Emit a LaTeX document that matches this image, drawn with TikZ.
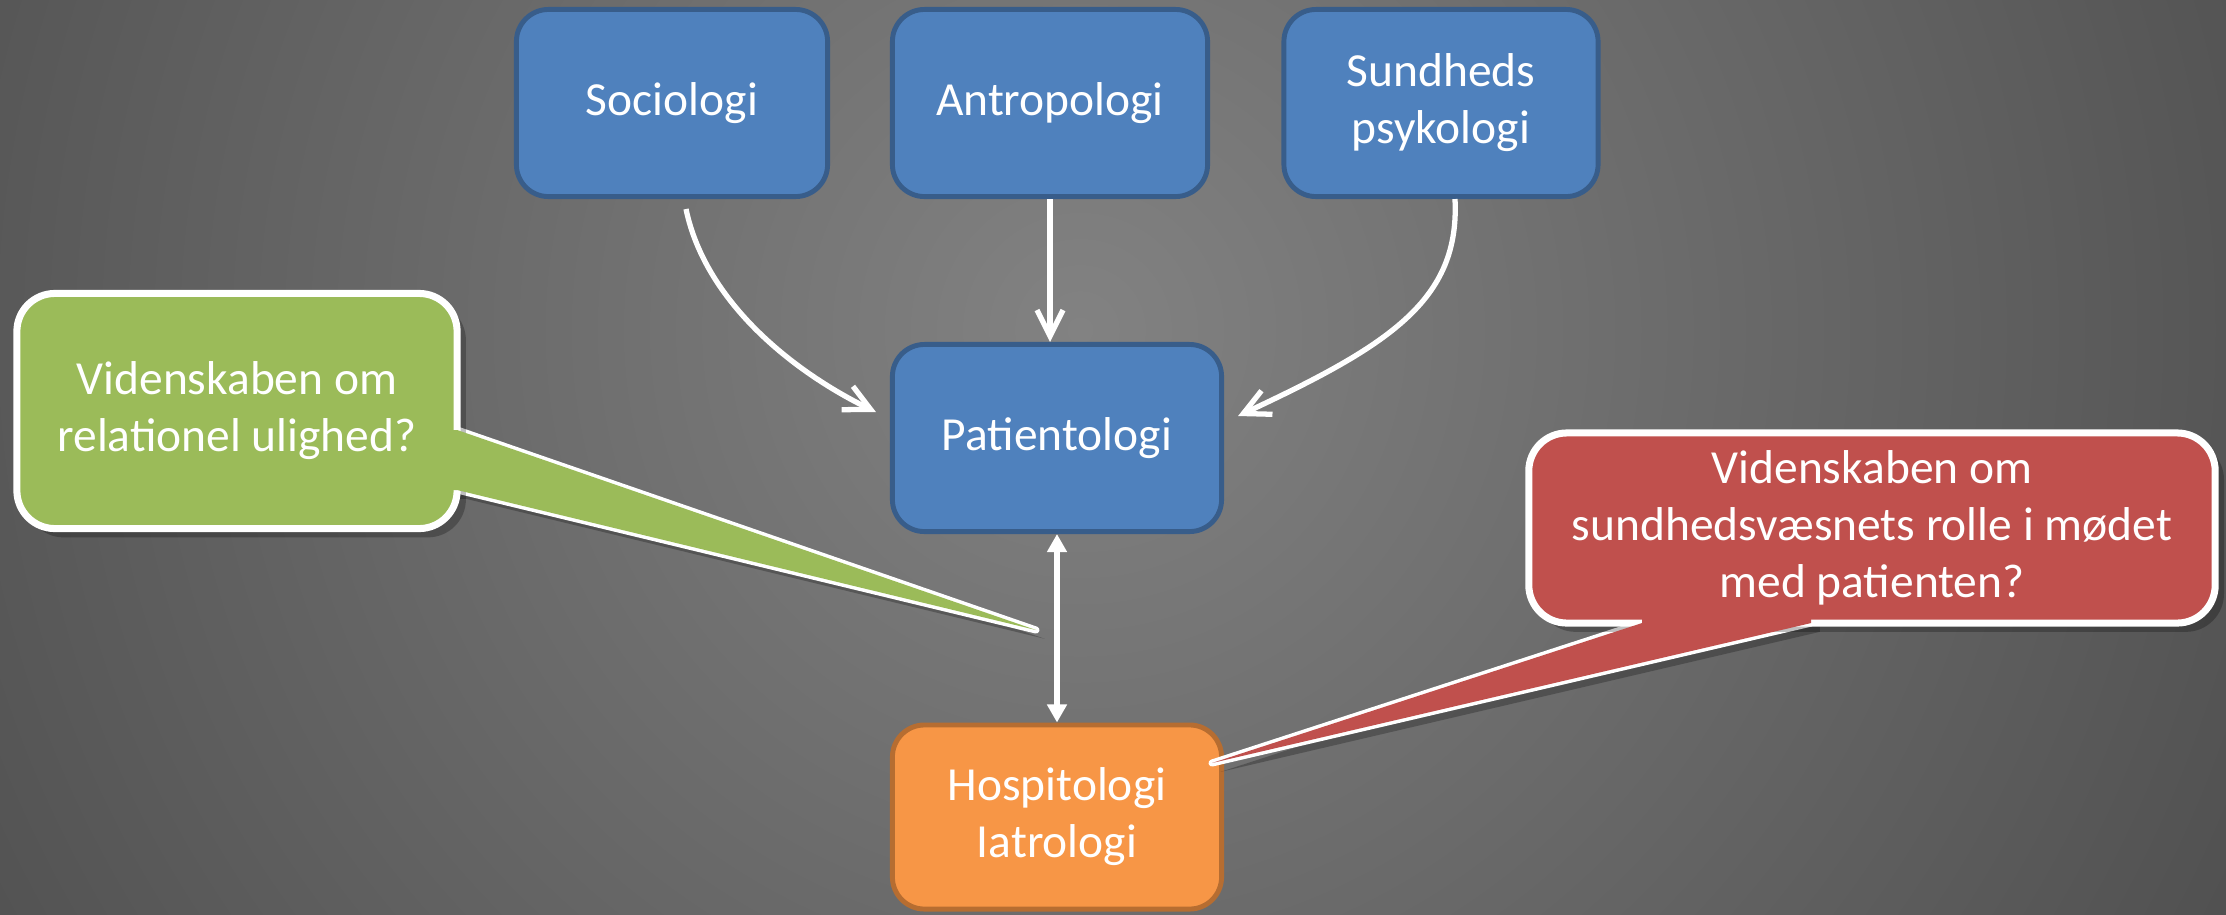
\documentclass[tikz,border=0pt]{standalone}
\usepackage{fontspec}
\setmainfont{Carlito}
\usepackage{tikz}
\usetikzlibrary{arrows.meta, calc, shadows}
\definecolor{FieldBlue}{HTML}{4F81BD}
\definecolor{FieldBlueDark}{HTML}{385D8A}
\definecolor{HospOrange}{HTML}{F79646}
\definecolor{HospOrangeDark}{HTML}{B66D31}
\definecolor{QuestGreen}{HTML}{9BBB59}
\definecolor{QuestRed}{HTML}{C0504D}
\definecolor{BgLight}{HTML}{828282}
\definecolor{BgDark}{HTML}{262626}
\pgfdeclarelayer{background}
\pgfdeclarelayer{pointer}
\pgfdeclarelayer{front}
\pgfsetlayers{background,main,pointer,front}
\newcommand{\boxfont}{\fontsize{13.5}{16.2}\selectfont}
\tikzset{
  % Box styles
  fieldbox/.style={rectangle, rounded corners=0.32cm, draw=FieldBlueDark, fill=FieldBlue, line width=1.4pt, text=white, minimum width=3.15cm, minimum height=1.87cm, align=center, font=\boxfont},
  hospbox/.style={fieldbox, draw=HospOrangeDark, fill=HospOrange, minimum width=3.29cm, minimum height=1.84cm},
  questbox/.style={rectangle, rounded corners=0.38cm, draw=white, line width=2pt, text=white, align=center, font=\boxfont, outer sep=0pt, drop shadow={shadow xshift=2.5pt, shadow yshift=-2.5pt, opacity=0.25, fill=black}},
  questpointer/.style={draw=white, line width=2pt, line join=round, drop shadow={shadow xshift=2.5pt, shadow yshift=-2.5pt, opacity=0.25, fill=black}},
  % Arrow styles
  flowarrow/.style={-{Straight Barb[length=0.26cm, width=0.26cm]}, line width=1.5pt, white},
  twowayarrow/.style={{Triangle[length=0.18cm, width=0.19cm]}-{Triangle[length=0.18cm, width=0.19cm]}, line width=1.5pt, white}
}
\begin{document}
\begin{tikzpicture}[x=0.01cm, y=-0.01cm]
  \useasboundingbox (0,0) rectangle (2226,914);

  % background
  \begin{pgfonlayer}{background}
    \begin{scope}
      \clip (0,0) rectangle (2226,914);
      \shade[inner color=BgLight, outer color=BgDark] (1080,330) circle (2400);
    \end{scope}
  \end{pgfonlayer}

  % the fields
  \node[fieldbox, minimum width=3.11cm] (soc) at (672,103) {Sociologi};
  \node[fieldbox] (ant) at (1050,103) {Antropologi};
  \node[fieldbox, minimum width=3.14cm] (sun) at (1441,103) {Sundheds\\psykologi};
  \node[fieldbox, minimum width=3.29cm] (pat) at (1057,438) {Patientologi};
  \node[hospbox] (hos) at (1057,817) {Hospitologi\\Iatrologi};

  \draw[flowarrow] ($(soc.south)+(14,10)$) .. controls +(19,91) and +(-86,-42) .. ($(pat.west)+(-14,-26)$);
  \draw[flowarrow] (ant.south) -- (ant.south |- pat.north);
  \draw[flowarrow] ($(sun.south)+(14,0)$) .. controls +(5,101) and +(152,-71) .. ($(pat.east)+(14,-22)$);
  \draw[twowayarrow] (pat.south) -- (hos.north);

  % the questions
  \begin{pgfonlayer}{front}
    \node[questbox, fill=QuestGreen, minimum width=4.4cm, minimum height=2.35cm] (rel) at (237,411) {Videnskaben om\\relationel ulighed?};
    \node[questbox, fill=QuestRed, minimum width=6.86cm, minimum height=1.9cm] (role) at (1872,528) {Videnskaben om\\sundhedsvæsnets rolle i mødet\\med patienten?};
  \end{pgfonlayer}
  \coordinate (relTip) at (1036,630);
  \coordinate (roleTip) at (1212,763);

  \begin{pgfonlayer}{pointer}
    \draw[questpointer, fill=QuestGreen] ($(rel.east)+(-20,19)$) -- ($(rel.east)+(0,19)$) -- (relTip) -- ($(rel.east)+(0,79)$) -- ($(rel.east)+(-20,79)$) -- cycle;
    \draw[questpointer, fill=QuestRed] ($(role.south)+(-230,-20)$) -- ($(role.south)+(-230,0)$) -- (roleTip) -- ($(role.south)+(-61,0)$) -- ($(role.south)+(-61,-20)$) -- cycle;
  \end{pgfonlayer}
  \begin{pgfonlayer}{front}
    \fill[QuestGreen] ($(rel.east)+(-20,19)$) -- ($(rel.east)+(0,19)$) -- (relTip) -- ($(rel.east)+(0,79)$) -- ($(rel.east)+(-20,79)$) -- cycle;
    \fill[QuestRed] ($(role.south)+(-230,-20)$) -- ($(role.south)+(-230,0)$) -- (roleTip) -- ($(role.south)+(-61,0)$) -- ($(role.south)+(-61,-20)$) -- cycle;
  \end{pgfonlayer}
\end{tikzpicture}
\end{document}
